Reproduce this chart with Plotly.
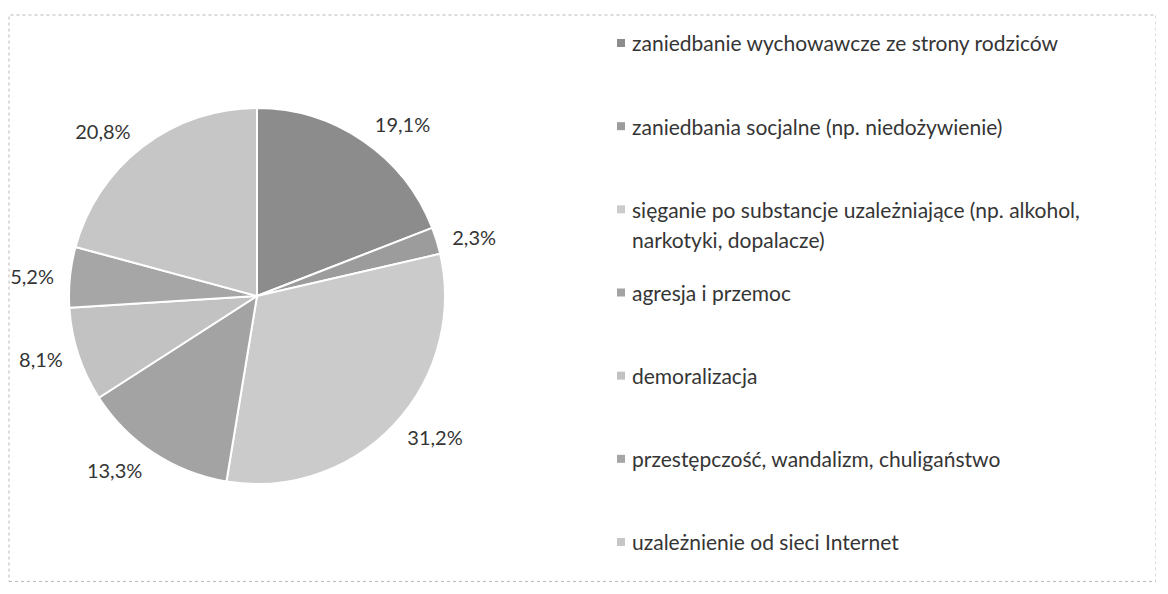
import plotly.graph_objects as go

# dane
labels = [
    "zaniedbanie wychowawcze ze strony rodziców",
    "zaniedbania socjalne (np. niedożywienie)",
    "sięganie po substancje uzależniające (np. alkohol,<br>narkotyki, dopalacze)",
    "agresja i przemoc",
    "demoralizacja",
    "przestępczość, wandalizm, chuligaństwo",
    "uzależnienie od sieci Internet",
]
values = [19.1, 2.3, 31.2, 13.3, 8.1, 5.2, 20.8]
value_text = ["19,1%", "2,3%", "31,2%", "13,3%", "8,1%", "5,2%", "20,8%"]
colors = ["#8c8c8c", "#9c9c9c", "#cbcbcb", "#a3a3a3", "#c2c2c2", "#a6a6a6", "#c6c6c6"]

FONT = "Lato"
TXT = "#353535"
W, H = 1148, 574  # strona ma margines 8px, zostawiamy zapas
CX, CY, R = 249, 288, 188  # srodek i promien kola (px w figurze)


def pie_domain(r):
    return dict(x=[(CX - r) / W, (CX + r) / W], y=[1 - (CY + r) / H, 1 - (CY - r) / H])


fig = go.Figure()

# kolo
fig.add_trace(go.Pie(
    labels=labels, values=values, text=value_text,
    textinfo="none", sort=False, direction="clockwise", rotation=0,
    marker=dict(colors=colors, line=dict(color="white", width=2)),
    domain=pie_domain(R), showlegend=False, hoverinfo="label+text",
))

# etykiety procentowe troche dalej od kola (przezroczysty pierscien)
fig.add_trace(go.Pie(
    labels=labels, values=values, text=value_text,
    textinfo="text", textposition="outside",
    sort=False, direction="clockwise", rotation=0,
    marker=dict(colors=["rgba(0,0,0,0)"] * len(values), line=dict(width=0)),
    textfont=dict(family=FONT, size=20, color=TXT),
    domain=pie_domain(R + 10), showlegend=False, hoverinfo="skip",
))

# legenda po prawej (markery + opisy)
rows = list(range(len(labels)))
fig.add_trace(go.Scatter(
    x=[0] * len(labels), y=rows, mode="markers",
    marker=dict(symbol="square", size=8, color=colors),
    xaxis="x", yaxis="y", showlegend=False, hoverinfo="skip", cliponaxis=False,
))

annotations = []
for i, lab in enumerate(labels):
    parts = lab.split("<br>")
    for j, p in enumerate(parts):
        annotations.append(dict(
            x=0, y=i, xref="x", yref="y", text=p, showarrow=False,
            xanchor="left", yanchor="middle", xshift=9, yshift=-30 * j,
            font=dict(family=FONT, size=21, color=TXT),
        ))

# os y: wiersz 0 na 35 px, wiersz 6 na 534 px
y_top, y_bot = 35 - 0.3 * 83.17, 534 + 0.3 * 83.17

fig.update_layout(
    width=W, height=H,
    margin=dict(l=0, r=0, t=0, b=0, autoexpand=False),
    paper_bgcolor="white", plot_bgcolor="white",
    xaxis=dict(domain=[613 / W, 1.0], range=[0, 1], visible=False, fixedrange=True),
    yaxis=dict(domain=[1 - y_bot / H, 1 - y_top / H], range=[6.3, -0.3],
               visible=False, fixedrange=True),
    annotations=annotations,
    shapes=[dict(type="rect", xref="paper", yref="paper",
                 x0=1 / W, x1=1.0, y0=0.001, y1=1 - 7 / H,
                 line=dict(color="#b8b8b8", width=1, dash="dot"))],
)

fig.write_html("out.html")
